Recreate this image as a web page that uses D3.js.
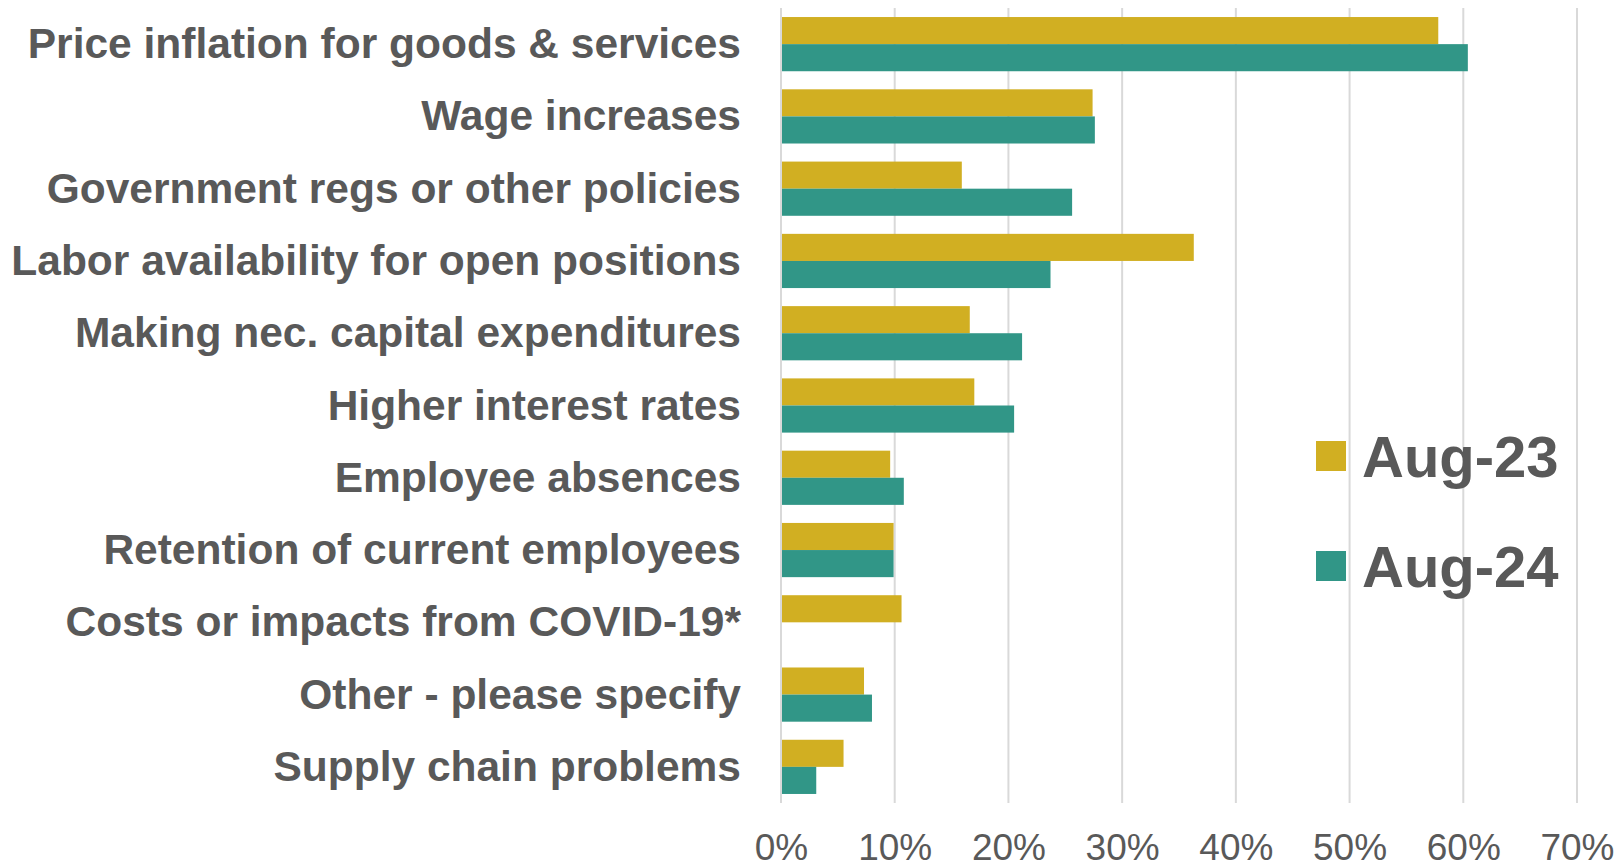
<!DOCTYPE html>
<html>
<head>
<meta charset="utf-8">
<script src="https://cdn.jsdelivr.net/npm/d3@7/dist/d3.min.js"></script>
<style>
  html, body { margin: 0; padding: 0; background: #fff; }
  svg { display: block; }
</style>
</head>
<body>
<svg id="chart" width="1618" height="867"></svg>
<script>
// Share of respondents citing each cost pressure
const categories = [
  "Price inflation for goods & services",
  "Wage increases",
  "Government regs or other policies",
  "Labor availability for open positions",
  "Making nec. capital expenditures",
  "Higher interest rates",
  "Employee absences",
  "Retention of current employees",
  "Costs or impacts from COVID-19*",
  "Other - please specify",
  "Supply chain problems"
];
const seriesNames = ["Aug-23", "Aug-24"];
const aug23 = [57.8, 27.4, 15.9, 36.3, 16.6, 17.0, 9.6, 9.9, 10.6, 7.3, 5.5];
const aug24 = [60.4, 27.6, 25.6, 23.7, 21.2, 20.5, 10.8, 9.9, null, 8.0, 3.1];
const tickValues = [0, 10, 20, 30, 40, 50, 60, 70];
const colors = ["#D1AF22", "#319687"];

const svg = d3.select("#chart");
const margin = { left: 781, right: 41, top: 8, bottom: 64 };
const W = 1618, H = 867;

const x = d3.scaleLinear().domain([0, 70]).range([margin.left, W - margin.right]);
const y = d3.scaleBand().domain(categories)
  .range([margin.top, H - margin.bottom])
  .paddingInner(0.25).paddingOuter(0.125);
const ySub = d3.scaleBand().domain(seriesNames).range([0, y.bandwidth()]);

// vertical gridlines
svg.append("g").selectAll("line").data(tickValues).join("line")
  .attr("x1", d => x(d)).attr("x2", d => x(d))
  .attr("y1", margin.top).attr("y2", H - margin.bottom)
  .attr("stroke", "#d9d9d9").attr("stroke-width", 2);

// bars
const rows = categories.map((c, i) => ({ c, vals: [aug23[i], aug24[i]] }));
const groups = svg.append("g").selectAll("g").data(rows).join("g")
  .attr("transform", d => `translate(0,${y(d.c)})`);
groups.selectAll("rect")
  .data(d => d.vals.map((v, k) => ({ v, k })).filter(e => e.v != null))
  .join("rect")
  .attr("x", x(0) + 1)
  .attr("y", e => ySub(seriesNames[e.k]))
  .attr("width", e => x(e.v) - x(0) - 1)
  .attr("height", ySub.bandwidth())
  .attr("fill", e => colors[e.k]);

// category labels
const yAxis = d3.axisLeft(y).tickSize(0).tickPadding(0);
const gy = svg.append("g").attr("transform", `translate(${x(0) - 40},0)`).call(yAxis);
gy.select(".domain").remove();
gy.selectAll("text")
  .attr("font-family", "Liberation Sans, Arial, sans-serif")
  .attr("font-weight", "bold")
  .attr("font-size", 42.5)
  .attr("fill", "#595959")
  .attr("dy", "0.33em");

// value axis
const xAxis = d3.axisBottom(x).tickValues(tickValues).tickFormat(d => d + "%").tickSize(0).tickPadding(0);
const gx = svg.append("g").attr("transform", `translate(0,${H - 7})`).call(xAxis);
gx.select(".domain").remove();
gx.selectAll("text")
  .attr("font-family", "Liberation Sans, Arial, sans-serif")
  .attr("font-size", 37)
  .attr("fill", "#595959")
  .attr("dy", 0);

// legend
const legend = svg.append("g").selectAll("g").data(seriesNames).join("g")
  .attr("transform", (d, i) => `translate(1316,${441 + i * 110})`);
legend.append("rect").attr("width", 30).attr("height", 30).attr("fill", (d, i) => colors[i]);
legend.append("text")
  .attr("x", 46).attr("y", 36)
  .attr("font-family", "Liberation Sans, Arial, sans-serif")
  .attr("font-weight", "bold")
  .attr("font-size", 58)
  .attr("fill", "#595959")
  .text(d => d);
</script>
</body>
</html>
